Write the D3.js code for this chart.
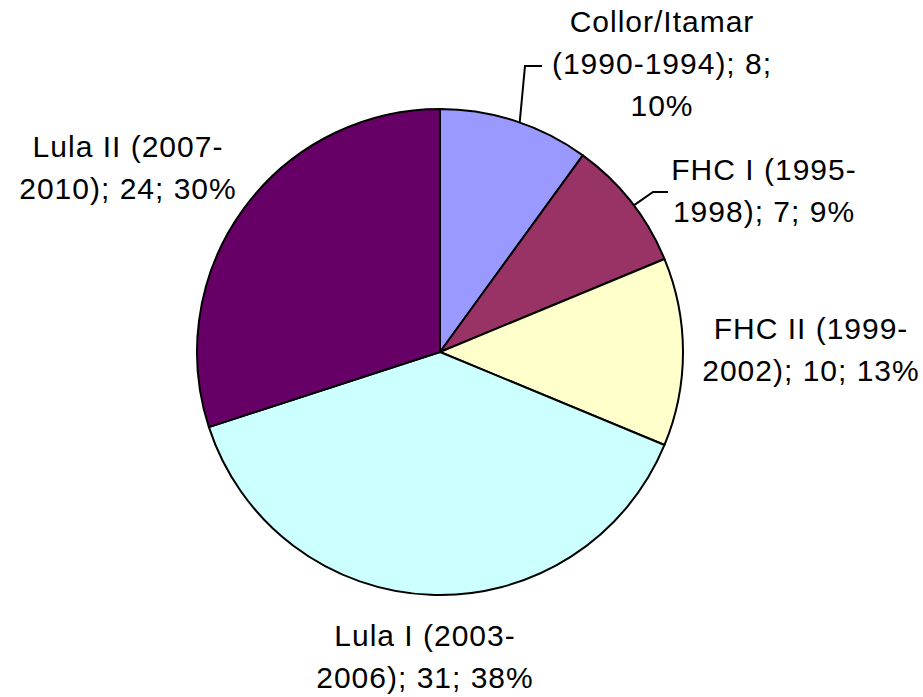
<!DOCTYPE html>
<html>
<head>
<meta charset="utf-8">
<script src="https://cdn.jsdelivr.net/npm/d3@7"></script>
<style>
  html, body { margin: 0; padding: 0; background: #fff; }
  text { font-family: "Liberation Sans", Arial, sans-serif; fill: #000; }
</style>
</head>
<body>
<div id="chart"></div>
<script>
'use strict';

// data
const periods = [
  'Collor/Itamar (1990-1994)',
  'FHC I (1995-1998)',
  'FHC II (1999-2002)',
  'Lula I (2003-2006)',
  'Lula II (2007-2010)',
];
const counts = [8, 7, 10, 31, 24];
const percents = ['10%', '9%', '13%', '38%', '30%'];
const colors = ['#9999ff', '#993366', '#ffffcc', '#ccffff', '#660066'];

// label text, split the way the chart wraps it
const labelLines = [
  ['Collor/Itamar', '(1990-1994); 8;', '10%'],
  ['FHC I (1995-', '1998); 7; 9%'],
  ['FHC II (1999-', '2002); 10; 13%'],
  ['Lula I (2003-', '2006); 31; 38%'],
  ['Lula II (2007-', '2010); 24; 30%'],
];

const width = 923;
const height = 697;
const cx = 440;
const cy = 352;
const radius = 243;
const lineH = 42;
const fontSize = 30;

// where each label box sits (centre x, first baseline) and leader elbows
const labelPos = [
  { x: 662, y: 32, leader: [[525, 66], [542, 66]] },
  { x: 764, y: 180, leader: [[653, 192], [668, 192]] },
  { x: 811, y: 339 },
  { x: 425, y: 646 },
  { x: 128, y: 157 },
];

const svg = d3
  .select('#chart')
  .append('svg')
  .attr('width', width)
  .attr('height', height);

const pie = d3.pie().sort(null).value((d) => d.value);
const arc = d3.arc().innerRadius(0).outerRadius(radius);

const data = counts.map((v, i) => ({ value: v, i }));
const arcs = pie(data);

const g = svg.append('g').attr('transform', `translate(${cx},${cy})`);

g.selectAll('path.slice')
  .data(arcs)
  .enter()
  .append('path')
  .attr('class', 'slice')
  .attr('d', arc)
  .attr('fill', (d) => colors[d.data.i])
  .attr('stroke', '#000')
  .attr('stroke-width', 2)
  .attr('stroke-linejoin', 'round');

// leader lines, start on the rim a bit past the slice's middle angle
arcs.forEach((d) => {
  const p = labelPos[d.data.i];
  if (!p.leader) return;
  const a = (d.startAngle + d.endAngle) / 2 + 0.02;
  const start = [cx + radius * Math.sin(a), cy - radius * Math.cos(a)];
  svg
    .append('path')
    .attr('d', d3.line()([start].concat(p.leader)))
    .attr('fill', 'none')
    .attr('stroke', '#000')
    .attr('stroke-width', 2);
});

const labels = svg
  .selectAll('text.lbl')
  .data(arcs)
  .enter()
  .append('text')
  .attr('class', 'lbl')
  .attr('text-anchor', 'middle')
  .attr('font-size', fontSize)
  .attr('letter-spacing', 1)
  .attr('x', (d) => labelPos[d.data.i].x)
  .attr('y', (d) => labelPos[d.data.i].y);

labels
  .selectAll('tspan')
  .data((d) => labelLines[d.data.i].map((t) => ({ t, x: labelPos[d.data.i].x })))
  .enter()
  .append('tspan')
  .attr('x', (d) => d.x)
  .attr('dy', (d, i) => (i === 0 ? 0 : lineH))
  .text((d) => d.t);
</script>
</body>
</html>
